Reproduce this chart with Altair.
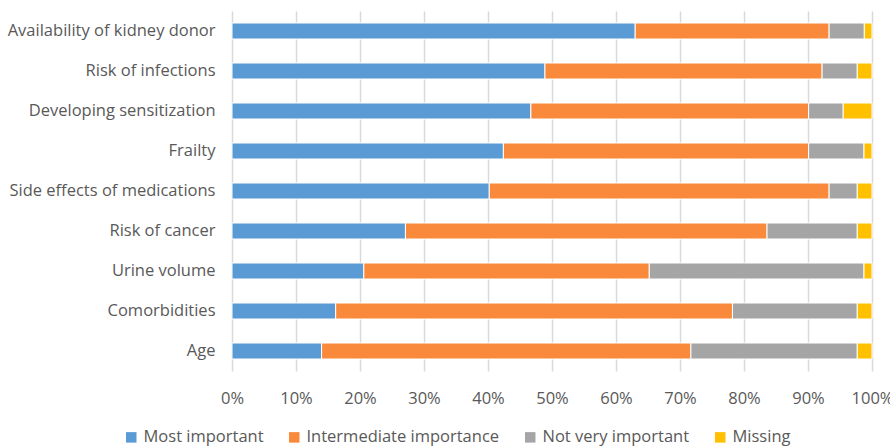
import altair as alt
import pandas as pd

# Survey factors, top to bottom
factors = [
    "Availability of kidney donor",
    "Risk of infections",
    "Developing sensitization",
    "Frailty",
    "Side effects of medications",
    "Risk of cancer",
    "Urine volume",
    "Comorbidities",
    "Age",
]

# Share of respondents (%) per importance level
most_important = [63.0, 48.9, 46.7, 42.4, 40.2, 27.1, 20.6, 16.2, 14.0]
intermediate = [30.3, 43.3, 43.4, 47.7, 53.1, 56.5, 44.6, 62.0, 57.7]
not_very = [5.5, 5.5, 5.4, 8.65, 4.4, 14.1, 33.55, 19.5, 26.0]
missing = [1.2, 2.3, 4.5, 1.25, 2.3, 2.3, 1.25, 2.3, 2.3]

levels = ["Most important", "Intermediate importance", "Not very important", "Missing"]
colors = ["#5B9BD5", "#F98A3B", "#A5A5A5", "#FFC000"]

rows = []
for i, f in enumerate(factors):
    for k, (lvl, vals) in enumerate(zip(levels, [most_important, intermediate, not_very, missing])):
        rows.append({"factor": f, "level": lvl, "order": k, "pct": vals[i] / 100.0})
df = pd.DataFrame(rows)

font = "Open Sans"
text_color = "#595959"
fs = 16.5

chart = (
    alt.Chart(df)
    .mark_bar(size=16, stroke="white", strokeWidth=1)
    .encode(
        y=alt.Y(
            "factor:N",
            sort=factors,
            title=None,
            scale=alt.Scale(paddingInner=0.6, paddingOuter=0.3),
            axis=alt.Axis(
                labelFontSize=fs,
                labelColor=text_color,
                labelFont=font,
                labelPadding=17,
                ticks=False,
                domain=False,
                grid=False,
                labelLimit=300,
            ),
        ),
        x=alt.X(
            "sum(pct):Q",
            stack="zero",
            title=None,
            scale=alt.Scale(domain=[0, 1], nice=False),
            axis=alt.Axis(
                format="%",
                values=[i / 10 for i in range(11)],
                labelFontSize=fs,
                labelColor=text_color,
                labelFont=font,
                labelFlush=False,
                labelPadding=19,
                ticks=False,
                domain=False,
                grid=True,
                gridColor="#D9D9D9",
                gridWidth=1.5,
            ),
        ),
        color=alt.Color(
            "level:N",
            sort=levels,
            scale=alt.Scale(domain=levels, range=colors),
            legend=alt.Legend(
                title=None,
                orient="none",
                direction="horizontal",
                legendX=-109,
                legendY=418,
                symbolType="square",
                symbolSize=110,
                symbolStrokeWidth=0,
                labelFontSize=fs,
                labelColor=text_color,
                labelFont=font,
                labelLimit=400,
                columnPadding=22,
                labelOffset=4,
            ),
        ),
        order=alt.Order("order:Q"),
    )
    .properties(
        width=640,
        height=360,
        autosize=alt.AutoSizeParams(type="none"),
        padding={"left": 232, "top": 11, "right": 18, "bottom": 76},
    )
    .configure_view(stroke=None)
)

chart.save("out.html", embed_options={"renderer": "svg", "actions": False})
